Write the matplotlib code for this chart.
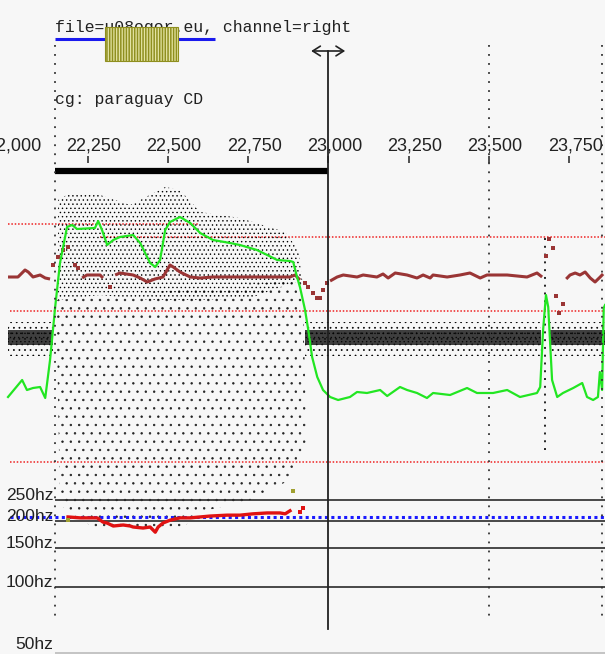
import numpy as np
import matplotlib.pyplot as plt
import matplotlib.transforms as mtransforms
from matplotlib.patches import Polygon, Rectangle

plt.rcParams['font.family'] = ['Liberation Sans', 'DejaVu Sans']

BG = '#f7f7f7'

# ---- time ruler (ms) ----
t_range = (21976, 23862)
tick_ms = [22000, 22250, 22500, 22750, 23000, 23250, 23500, 23750]
boundary_ms = [22148, 23500, 23853]
cursor_ms = 23000
selection_ms = (22148, 23000)
file_bar_ms = (22148, 22647)
file_label = 'file=u08ogor.eu, channel=right'
comment_label = 'cg: paraguay CD'

# ---- intensity contour (dB) ----
intensity_ms = [22001, 22045, 22060, 22079, 22101, 22117, 22132, 22148, 22163, 22185,
                22201, 22216, 22272, 22282, 22294, 22310, 22329, 22350, 22391, 22413,
                22444, 22460, 22475, 22491, 22506, 22537, 22569, 22600, 22640, 22693,
                22724, 22777, 22809, 22840, 22880, 22890, 22902, 22911, 22927, 22937,
                22949, 22965, 22983, 23005, 23030, 23067, 23089, 23120, 23161, 23183,
                23223, 23245, 23276, 23307, 23326, 23379, 23432, 23463, 23513, 23557,
                23597, 23650, 23660, 23669, 23678, 23685, 23697, 23713, 23731, 23763,
                23791, 23806, 23825, 23840, 23846, 23853, 23858, 23862]
intensity_db = [45.7, 47.4, 46.4, 46.6, 46.7, 45.6, 49.4, 54.7, 59.1, 62.7,
                62.9, 62.5, 62.6, 63.3, 62.4, 60.9, 61.4, 61.7, 61.9, 61.1,
                59.1, 58.7, 59.4, 62.4, 63.2, 63.7, 63.1, 62.1, 61.4, 61.1,
                60.9, 60.4, 59.9, 59.4, 59.3, 59.2, 57.7, 56.7, 54.4, 52.4,
                49.7, 47.7, 46.4, 45.7, 45.4, 45.7, 46.2, 46.1, 46.4, 45.8,
                46.7, 46.4, 46.1, 45.6, 46.1, 45.9, 46.6, 46.1, 46.1, 46.4,
                45.7, 46.1, 46.7, 52.4, 55.9, 54.7, 47.4, 45.7, 46.1, 46.6,
                47.1, 45.7, 45.4, 45.7, 48.2, 46.4, 54.6, 54.9]

# ---- smoothed contour (same dB scale), runs split by nan ----
contour_ms = [22001, 22032, 22054, 22064, 22079, 22101, 22117, 22132, np.nan,
              22232, 22247, 22288, 22297, np.nan,
              22335, 22350, 22391, 22413, 22435, 22459, 22484, 22506, 22516, 22537,
              22569, 22600, 22640, 22703, 22809, 22880, 22896, 22911, np.nan,
              23005, 23027, 23046, 23089, 23108, 23151, 23170, 23186, 23208, 23245,
              23276, 23295, 23317, 23326, 23370, 23410, 23441, 23473, 23494, 23557,
              23619, 23650, 23666, np.nan,
              23741, 23753, 23769, 23784, 23800, 23816, 23831, 23847, 23856]
contour_db = [57.7, 57.7, 58.4, 58.2, 57.7, 57.9, 57.6, 57.5, np.nan,
              57.6, 57.9, 57.9, 57.6, np.nan,
              57.9, 58.1, 57.9, 57.6, 57.2, 57.5, 57.7, 58.9, 58.7, 58.2,
              57.7, 57.6, 57.7, 57.7, 57.7, 57.7, 57.9, 57.4, np.nan,
              57.3, 57.7, 57.9, 57.7, 57.9, 57.7, 58.0, 57.6, 58.1, 57.9,
              57.6, 57.9, 57.6, 57.9, 57.7, 57.9, 58.1, 57.6, 57.9, 57.9,
              57.7, 58.1, 57.7, np.nan,
              57.5, 57.9, 58.1, 57.9, 58.2, 57.6, 57.2, 57.7, 58.0]
contour_dot_ms = [22142, 22157, 22173, 22188, 22210, 22219, 22319,
                  22927, 22936, 22952, 22964, 22974, 22983, 22996,
                  23678, 23688, 23700, 23710, 23719, 23731]
contour_dot_db = [58.9, 59.7, 60.4, 60.7, 58.9, 58.6, 56.7,
                  57.1, 56.7, 56.1, 55.6, 55.6, 56.4, 57.1,
                  59.8, 61.5, 60.6, 55.8, 54.1, 55.0]

# ---- reference levels (dB) ----
ref_db = [63.0, 61.7, 54.3, 39.2]
ref_start_ms = [22001, 22288, 22007, 22007]
ref_end_ms = [22594, 23862, 23862, 23862]

# ---- candidate cloud extents (ms, dB) ----
dense_ms = [22157, 22195, 22288, 22382, 22491, 22537, 22600, 22724, 22865, 22906,
            22918, 22756, 22600, 22444, 22288, 22157]
dense_db = [65.4, 66.1, 65.9, 64.9, 66.7, 66.4, 64.2, 63.6, 62.2, 60.4,
            57.4, 55.6, 55.4, 55.4, 55.9, 55.4]
sparse_ms = [22151, 22918, 22933, 22880, 22756, 22600, 22537, 22288, 22163]
sparse_db = [55.4, 57.4, 41.4, 37.4, 35.4, 34.2, 32.4, 32.2, 34.9]
band_runs_ms = [(22001, 22142), (22927, 23663), (23692, 23862)]
band_core_db = (50.9, 52.4)
band_fringe_db = (49.8, 53.2)
spike_column_ms = 23675
spike_column_db = (40.4, 61.9)

# ---- pitch (Hz) ----
pitch_ms = [22188, 22226, 22279, 22297, 22310, 22329, 22360, 22382, 22391, 22422,
            22444, 22460, 22469, 22484, 22506, 22537, 22569, 22600, 22631, 22684,
            22724, 22765, 22809, 22849, 22865, 22880]
pitch_hz = [209, 207, 207, 198, 196, 190, 192, 190, 188, 186,
            188, 178, 188, 196, 202, 207, 207, 209, 211, 213,
            213, 216, 218, 218, 216, 223]
pitch_dot_ms = [22911, 22921]
pitch_dot_hz = [220, 230]
olive_ms = [22890, 22188]
olive_hz = [275, 202]
hz_grid = [250, 200, 150, 100]
hz_floor = 50
hz_ref = 209


fig = plt.figure(figsize=(6.05, 6.54), dpi=100, facecolor=BG)

# level layer (dB) and pitch layer (log Hz) share the time axis
ax = fig.add_axes([0, 0, 1, 1])
ax.set_facecolor(BG)
ax.set_xlim(*t_range)
ax.set_ylim(20.0, 85.4)
ax.axis('off')

axp = fig.add_axes([0, 0, 1, 1])
axp.patch.set_visible(False)
axp.set_xlim(*t_range)
axp.set_yscale('log')
axp.set_ylim(49.4, 48200)
axp.axis('off')

# reference levels
for lv, t0, t1 in zip(ref_db, ref_start_ms, ref_end_ms):
    ax.plot([t0, t1], [lv, lv], color='#ee2222', lw=1.1,
            linestyle=(0, (1, 1.2)), zorder=1)

# candidate clouds (stippled)
with plt.rc_context({'hatch.linewidth': 0.5}):
    ax.add_patch(Polygon(np.column_stack([sparse_ms, sparse_db]), closed=True,
                         facecolor='none', edgecolor='#222222', linewidth=0,
                         hatch='..', zorder=2))
    ax.add_patch(Polygon(np.column_stack([dense_ms, dense_db]), closed=True,
                         facecolor='none', edgecolor='black', linewidth=0,
                         hatch='....', zorder=2))
    for t0, t1 in band_runs_ms:
        ax.fill_between([t0, t1], band_fringe_db[0], band_fringe_db[1],
                        facecolor='none', edgecolor='black', linewidth=0,
                        hatch='...', zorder=2)
        ax.fill_between([t0, t1], band_core_db[0], band_core_db[1],
                        facecolor='#111111', alpha=0.8, edgecolor='black',
                        linewidth=0, hatch='....', zorder=2)
ax.plot([spike_column_ms] * 2, spike_column_db, color='#222222', lw=1.4,
        linestyle=(0, (1, 3)), zorder=2)

# contours
ax.plot(intensity_ms, intensity_db, color='#22e622', lw=1.6, zorder=4)
ax.plot(contour_ms, contour_db, color='#9a3535', lw=2.2, zorder=3,
        solid_capstyle='butt')
ax.plot(contour_dot_ms, contour_dot_db, 's', color='#9a3535', ms=2.3,
        mew=0, zorder=3)

# pitch panel
axp.hlines(hz_grid, boundary_ms[0], t_range[1], color='#2a2a2a', lw=1.2, zorder=2)
axp.hlines(hz_floor, boundary_ms[0], t_range[1], color='#bbbbbb', lw=1.2, zorder=2)
axp.plot([22007, t_range[1]], [hz_ref, hz_ref], color='#1a1aff', lw=2.2,
         linestyle=(0, (1, 1.1)), dash_capstyle='butt', zorder=3)
axp.plot(pitch_ms, pitch_hz, color='#e01212', lw=2.4, zorder=4)
axp.plot(pitch_dot_ms, pitch_dot_hz, 's', color='#e01212', ms=3, mew=0, zorder=4)
axp.plot(olive_ms, olive_hz, 's', color='#a0a030', ms=3, mew=0, zorder=5)
raise_floor = mtransforms.ScaledTranslation(0, 4 / 100, fig.dpi_scale_trans)
for hz in hz_grid + [hz_floor]:
    tr = axp.transData + raise_floor if hz == hz_floor else axp.transData
    axp.text(boundary_ms[0] - 6, hz, f'{hz}hz', ha='right', va='baseline',
             fontsize=12.5, color='#222222', transform=tr)

# segment boundaries and cursor, drawn in dB coordinates on top
for t in boundary_ms:
    axp.plot([t, t], [80.9, 23.4], transform=ax.transData, color='#333333',
             lw=1.3, linestyle=(0, (1, 4)), zorder=6)
axp.plot([cursor_ms, cursor_ms], [80.3, 22.5], transform=ax.transData,
         color='#222222', lw=1.3, zorder=7)
ax.annotate('', xy=(22946, 80.3), xytext=(23052, 80.3),
            arrowprops=dict(arrowstyle='<->, head_length=0.55, head_width=0.35',
                            color='#222222', lw=1.2, shrinkA=0, shrinkB=0))

# time ruler
label_shift = mtransforms.ScaledTranslation(6 / 100, 0, fig.dpi_scale_trans)
for t in tick_ms:
    ax.text(t, 70.8, f'{t:,}', ha='center', va='center', fontsize=13,
            color='#222222', transform=ax.transData + label_shift)
ax.vlines(tick_ms[1:], 69.1, 69.8, color='#222222', lw=1.1)
ax.hlines(68.3, selection_ms[0], selection_ms[1], color='black', lw=4.5)

# header
ax.text(selection_ms[0], 82.7, file_label, ha='left', va='center',
        family='Liberation Mono', fontsize=11.9, color='#222222')
ax.hlines(81.5, file_bar_ms[0], file_bar_ms[1], color='#1a1aee', lw=2.2)
with plt.rc_context({'hatch.linewidth': 1.1}):
    ax.add_patch(Rectangle((22304, 79.3), 228, 3.4, facecolor='#e4e4a4',
                           edgecolor='#8f8f1f', hatch='||||||', lw=0.8, zorder=5))
ax.text(selection_ms[0], 75.5, comment_label, ha='left', va='center',
        family='Liberation Mono', fontsize=11.9, color='#222222')

fig.savefig('out.png', dpi=100, facecolor=BG)
